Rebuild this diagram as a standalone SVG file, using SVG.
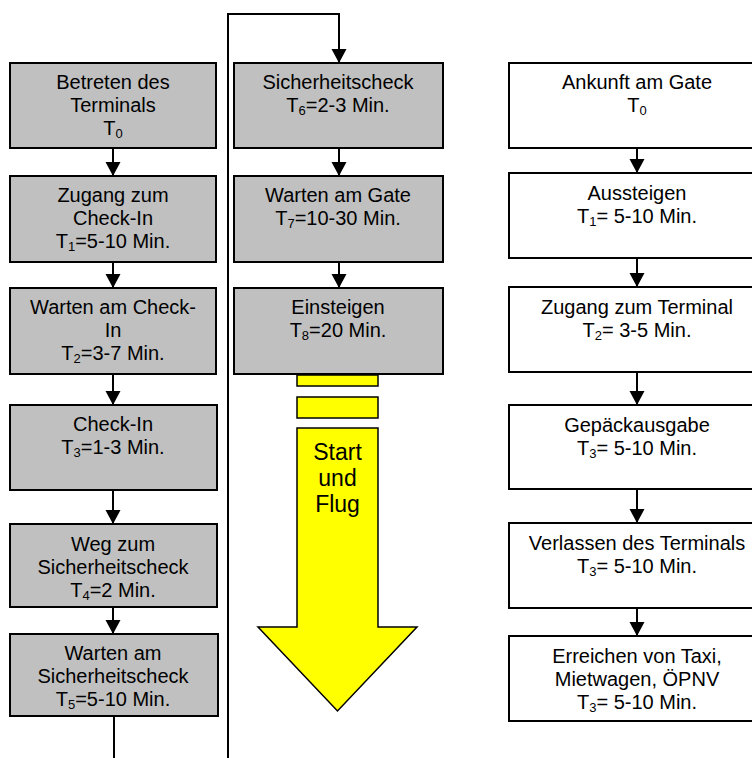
<svg xmlns="http://www.w3.org/2000/svg" width="752" height="758" viewBox="0 0 752 758">
<defs>
<style>
.box{fill:#C0C0C0;stroke:#000;stroke-width:2}
.wbox{fill:#fff;stroke:#000;stroke-width:2}
.yel{fill:#FFFF00;stroke:#000;stroke-width:1.5}
text{font-family:"Liberation Sans",Arial,sans-serif;font-size:20px;fill:#000;text-anchor:middle}
.sub{font-size:13px}
.big{font-size:23px}
.con{fill:none;stroke:#000;stroke-width:2}
</style>
<marker id="arr" markerUnits="userSpaceOnUse" markerWidth="16" markerHeight="16" viewBox="0 0 16 16" refX="15" refY="8" orient="auto">
<path d="M1,0.5 L15,8 L1,15.5 Z" fill="#000"/>
</marker>
</defs>
<rect width="752" height="758" fill="#fff"/>
<g id="connectors">
<line class="con" x1="113" y1="148" x2="113" y2="176" marker-end="url(#arr)"/>
<line class="con" x1="113" y1="262" x2="113" y2="288" marker-end="url(#arr)"/>
<line class="con" x1="113" y1="374" x2="113" y2="405" marker-end="url(#arr)"/>
<line class="con" x1="113" y1="490" x2="113" y2="524" marker-end="url(#arr)"/>
<line class="con" x1="113" y1="607" x2="113" y2="634" marker-end="url(#arr)"/>
<line class="con" x1="114" y1="716" x2="114" y2="760"/>
<polyline class="con" points="228,760 228,14 339,14 339,63" marker-end="url(#arr)"/>
<line class="con" x1="339" y1="148" x2="339" y2="176" marker-end="url(#arr)"/>
<line class="con" x1="339" y1="262" x2="339" y2="288" marker-end="url(#arr)"/>
<line class="con" x1="637" y1="148" x2="637" y2="173" marker-end="url(#arr)"/>
<line class="con" x1="637" y1="258" x2="637" y2="287" marker-end="url(#arr)"/>
<line class="con" x1="637" y1="372" x2="637" y2="405" marker-end="url(#arr)"/>
<line class="con" x1="637" y1="489" x2="637" y2="523" marker-end="url(#arr)"/>
<line class="con" x1="637" y1="608" x2="637" y2="636" marker-end="url(#arr)"/>
</g>
<g id="n1">
<rect class="box" x="10" y="63" width="206" height="85"/>
<text x="113" y="89">Betreten des</text>
<text x="113" y="112">Terminals</text>
<text x="113" y="135">T<tspan class="sub" dy="3">0</tspan></text>
</g>
<g id="n2">
<rect class="box" x="10" y="176" width="206" height="86"/>
<text x="113" y="202">Zugang zum</text>
<text x="113" y="225">Check-In</text>
<text x="113" y="248">T<tspan class="sub" dy="3">1</tspan><tspan dy="-3">=5-10 Min.</tspan></text>
</g>
<g id="n3">
<rect class="box" x="10" y="288" width="206" height="86"/>
<text x="113" y="314">Warten am Check-</text>
<text x="113" y="337">In</text>
<text x="113" y="360">T<tspan class="sub" dy="3">2</tspan><tspan dy="-3">=3-7 Min.</tspan></text>
</g>
<g id="n4">
<rect class="box" x="10" y="405" width="207" height="85"/>
<text x="113" y="431">Check-In</text>
<text x="113" y="454">T<tspan class="sub" dy="3">3</tspan><tspan dy="-3">=1-3 Min.</tspan></text>
</g>
<g id="n5">
<rect class="box" x="10" y="524" width="207" height="83"/>
<text x="113" y="551">Weg zum</text>
<text x="113" y="574">Sicherheitscheck</text>
<text x="113" y="597">T<tspan class="sub" dy="3">4</tspan><tspan dy="-3">=2 Min.</tspan></text>
</g>
<g id="n6">
<rect class="box" x="10" y="634" width="208" height="82"/>
<text x="113" y="660">Warten am</text>
<text x="113" y="683">Sicherheitscheck</text>
<text x="113" y="706">T<tspan class="sub" dy="3">5</tspan><tspan dy="-3">=5-10 Min.</tspan></text>
</g>
<g id="n7">
<rect class="box" x="234" y="63" width="209" height="85"/>
<text x="338" y="89">Sicherheitscheck</text>
<text x="338" y="112">T<tspan class="sub" dy="3">6</tspan><tspan dy="-3">=2-3 Min.</tspan></text>
</g>
<g id="n8">
<rect class="box" x="234" y="176" width="209" height="86"/>
<text x="338" y="202">Warten am Gate</text>
<text x="338" y="225">T<tspan class="sub" dy="3">7</tspan><tspan dy="-3">=10-30 Min.</tspan></text>
</g>
<g id="n9">
<rect class="box" x="234" y="288" width="209" height="86"/>
<text x="338" y="314">Einsteigen</text>
<text x="338" y="337">T<tspan class="sub" dy="3">8</tspan><tspan dy="-3">=20 Min.</tspan></text>
</g>
<g id="n10">
<rect class="yel" x="297" y="375" width="81" height="11"/>
<rect class="yel" x="297" y="397" width="81" height="21"/>
<path class="yel" d="M297,428 L378,428 L378,627 L417,627 L337.5,711 L258,627 L297,627 Z"/>
<text class="big" x="337.5" y="460">Start</text>
<text class="big" x="337.5" y="486">und</text>
<text class="big" x="337.5" y="512">Flug</text>
</g>
<g id="n11">
<rect class="wbox" x="509" y="63" width="260" height="85"/>
<text x="637" y="89">Ankunft am Gate</text>
<text x="637" y="112">T<tspan class="sub" dy="3">0</tspan></text>
</g>
<g id="n12">
<rect class="wbox" x="509" y="173" width="260" height="85"/>
<text x="637" y="200">Aussteigen</text>
<text x="637" y="223">T<tspan class="sub" dy="3">1</tspan><tspan dy="-3">= 5-10 Min.</tspan></text>
</g>
<g id="n13">
<rect class="wbox" x="509" y="287" width="260" height="85"/>
<text x="637" y="314">Zugang zum Terminal</text>
<text x="637" y="337">T<tspan class="sub" dy="3">2</tspan><tspan dy="-3">= 3-5 Min.</tspan></text>
</g>
<g id="n14">
<rect class="wbox" x="509" y="405" width="260" height="84"/>
<text x="637" y="432">Gepäckausgabe</text>
<text x="637" y="455">T<tspan class="sub" dy="3">3</tspan><tspan dy="-3">= 5-10 Min.</tspan></text>
</g>
<g id="n15">
<rect class="wbox" x="509" y="523" width="260" height="85"/>
<text x="637" y="550">Verlassen des Terminals</text>
<text x="637" y="573">T<tspan class="sub" dy="3">3</tspan><tspan dy="-3">= 5-10 Min.</tspan></text>
</g>
<g id="n16">
<rect class="wbox" x="509" y="636" width="260" height="85"/>
<text x="637" y="663">Erreichen von Taxi,</text>
<text x="637" y="686">Mietwagen, ÖPNV</text>
<text x="637" y="709">T<tspan class="sub" dy="3">3</tspan><tspan dy="-3">= 5-10 Min.</tspan></text>
</g>
</svg>
